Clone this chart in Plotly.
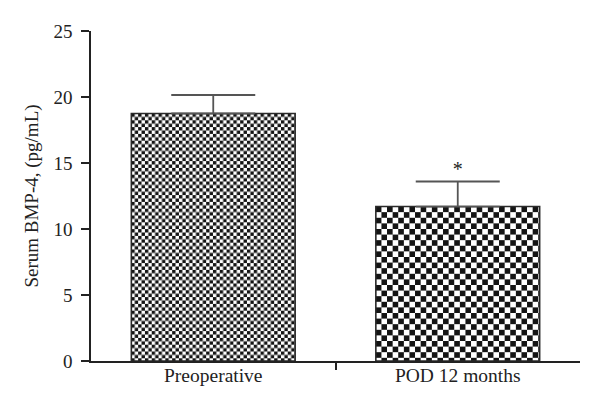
import base64
import plotly.graph_objects as go

categories = ["Preoperative", "POD 12 months"]
means = [18.75, 11.7]
sem_upper = [1.4, 1.9]
sig_marks = ["", "*"]
y_ticks = [0, 5, 10, 15, 20, 25]

FONT = "Liberation Serif, Times New Roman, serif"
xpos = list(range(len(categories)))
tops = [m + e for m, e in zip(means, sem_upper)]

# figure geometry (browser body has an 8px margin)
W, H = 584, 396
ML, MR, MT, MB = 83, 12, 23, 43
XR = [-0.5, 1.5]
YR = [0, 25]
BAR_W = 0.67
px_x = (W - ML - MR) / (XR[1] - XR[0])
px_y = (H - MT - MB) / (YR[1] - YR[0])
checker_px = [3.4, 5.6]


def checker_svg(wpx, hpx, s):
    svg = (
        f"<svg xmlns='http://www.w3.org/2000/svg' width='{wpx:.1f}' height='{hpx:.1f}' "
        f"viewBox='0 0 {wpx:.1f} {hpx:.1f}' preserveAspectRatio='none'>"
        f"<defs><pattern id='p' width='{2*s}' height='{2*s}' patternUnits='userSpaceOnUse'>"
        f"<rect width='{2*s}' height='{2*s}' fill='white'/>"
        f"<rect width='{s}' height='{s}' fill='#141414'/>"
        f"<rect x='{s}' y='{s}' width='{s}' height='{s}' fill='#141414'/>"
        f"</pattern></defs><rect width='{wpx:.1f}' height='{hpx:.1f}' fill='url(#p)'/></svg>"
    )
    return "data:image/svg+xml;base64," + base64.b64encode(svg.encode()).decode()


fig = go.Figure()
images = []
for i, (c, m, e) in enumerate(zip(categories, means, sem_upper)):
    images.append(dict(
        source=checker_svg(BAR_W * px_x, m * px_y, checker_px[i]),
        xref="x", yref="y", x=xpos[i] - BAR_W / 2, y=m,
        sizex=BAR_W, sizey=m, sizing="stretch",
        xanchor="left", yanchor="top", layer="below",
    ))
    fig.add_trace(go.Bar(
        x=[xpos[i]], y=[m], width=BAR_W,
        marker=dict(color="rgba(0,0,0,0)", line=dict(color="#2a2a2a", width=1.6)),
        error_y=dict(type="data", array=[e], arrayminus=[0], symmetric=False,
                     color="#555", thickness=1.8, width=42),
        showlegend=False, name=c,
    ))

fig.add_trace(go.Scatter(
    x=xpos, y=tops, mode="text", text=sig_marks, textposition="top center",
    textfont=dict(family=FONT, size=20, color="#222"), showlegend=False,
    cliponaxis=False,
))

# category labels on an overlay axis (ticks only at the boundary on the main axis)
fig.add_trace(go.Scatter(x=xpos, y=[None, None], xaxis="x2", showlegend=False))

fig.update_layout(
    width=W, height=H,
    margin=dict(l=ML, r=MR, t=MT, b=MB, autoexpand=False),
    plot_bgcolor="rgba(0,0,0,0)", paper_bgcolor="white",
    font=dict(family=FONT, size=19, color="#222"),
    images=images,
    xaxis=dict(range=XR, tickmode="array", tickvals=[0.5], ticktext=[""],
               ticks="outside", ticklen=7, tickwidth=1.5, tickcolor="#222",
               showline=True, linecolor="#222", linewidth=1.6,
               showgrid=False, zeroline=False),
    xaxis2=dict(range=XR, overlaying="x", side="bottom",
                tickmode="array", tickvals=xpos, ticktext=categories,
                ticks="", showline=False, showgrid=False, zeroline=False,
                tickfont=dict(family=FONT, size=19.5, color="#222")),
    yaxis=dict(range=YR, tickmode="array", tickvals=y_ticks,
               ticks="outside", ticklen=8, tickwidth=1.5, tickcolor="#222",
               showline=True, linecolor="#222", linewidth=1.6,
               showgrid=False, zeroline=False, ticklabelstandoff=5,
               title=dict(text="Serum BMP-4, (pg/mL)", font=dict(family=FONT, size=19), standoff=10),
               tickfont=dict(family=FONT, size=19, color="#222")),
)

fig.write_html("out.html")
